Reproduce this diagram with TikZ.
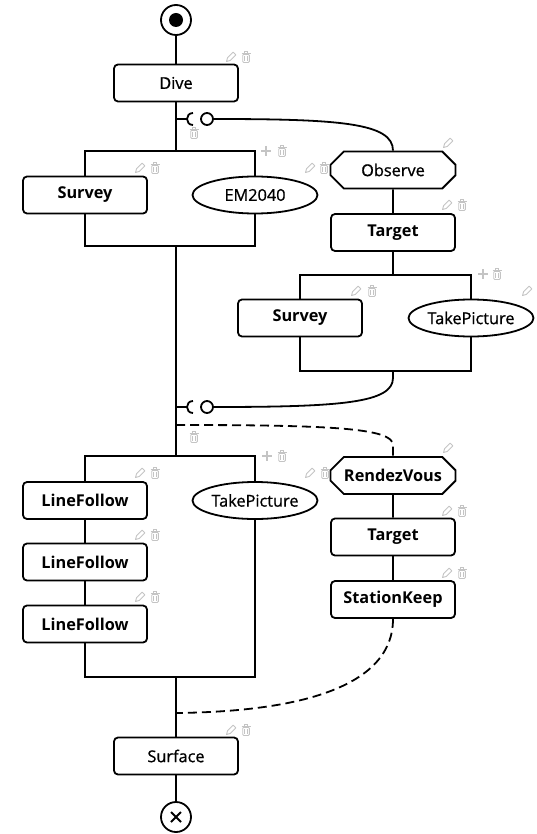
\documentclass[tikz,border=0pt]{standalone}
\usepackage{fontspec}
\setmainfont{Open Sans}
\newfontfamily\medfont[FakeBold=0.9]{Open Sans}
\usetikzlibrary{shapes.geometric,shapes.misc}
\definecolor{icon}{HTML}{C4C4C4}
\tikzset{
  base/.style={draw,line width=1.8pt,minimum width=124pt,minimum height=37pt,inner sep=0pt,font=\fontsize{16.3pt}{19pt}\selectfont\medfont},
  strong/.style={font=\fontsize{16.3pt}{19pt}\selectfont\bfseries},
  box/.style={base,rectangle,rounded corners=4pt},
  oval/.style={base,ellipse,minimum width=125pt},
  octa/.style={base,chamfered rectangle,chamfered rectangle xsep=7pt,chamfered rectangle ysep=7pt,minimum width=125pt},
  ball/.style={circle,draw,fill=white,line width=1.8pt,minimum size=12pt,inner sep=0pt},
  wire/.style={line width=1.8pt},
  dwire/.style={line width=1.8pt,dash pattern=on 9pt off 5pt},
  penc/.pic={\draw[icon,line width=0.9pt,line join=round] (4.9,-2.1) -- (2.1,-4.9) -- (-3.4,0.6) -- (-4.5,4.5) -- (-0.6,3.4) -- cycle;},
  trsh/.pic={\draw[icon,line width=0.9pt] (-4.5,-4) -- (4.5,-4) (-1.5,-4) -- (-1.5,-5.8) -- (1.5,-5.8) -- (1.5,-4);
             \draw[icon,line width=0.9pt,rounded corners=1pt] (-3.3,-2.6) rectangle (3.3,5.5);
             \draw[icon,line width=0.7pt] (-1.2,-1) -- (-1.2,4) (1.2,-1) -- (1.2,4);},
  plusi/.pic={\draw[icon,line width=2pt] (-5,0) -- (5,0) (0,-5) -- (0,5);}
}
\begin{document}
\begin{tikzpicture}[x=1pt,y=-1pt]
\useasboundingbox (0,0) rectangle (537,834);
% start / end
\node[circle,draw,line width=1.8pt,minimum size=30pt,inner sep=0pt] (start) at (176,20) {};
\fill (start.center) circle (7);
\node[circle,draw,line width=1.8pt,minimum size=30pt,inner sep=0pt] (stop) at (176,817) {};
\draw[wire] (171,812) -- (181,822) (181,812) -- (171,822);
% nodes
\node[box] (dive) at (176,83) {Dive};
\node[box,strong] (survA) at (85,195) {Survey};
\node[oval] (em) at (255,195) {EM2040};
\node[octa] (obs) at (393,170) {Observe};
\node[box,strong] (targA) at (393,232.5) {Target};
\node[box,strong] (survB) at (300,318) {Survey};
\node[oval] (picA) at (471,318) {TakePicture};
\node[octa,strong] (rdv) at (393,475.5) {RendezVous};
\node[box,strong] (targB) at (393,537) {Target};
\node[box,strong] (keep) at (393,599.5) {StationKeep};
\node[box,strong] (lfA) at (85,500.5) {LineFollow};
\node[box,strong] (lfB) at (85,562) {LineFollow};
\node[box,strong] (lfC) at (85,624) {LineFollow};
\node[oval] (picB) at (255,500.5) {TakePicture};
\node[box] (surf) at (176,756) {Surface};
% balls
\node[ball] (ballA) at (207,119) {};
\node[ball] (ballB) at (207,407) {};
% coordinates
\coordinate (fAt) at (176,151);
\coordinate (fAb) at (176,246);
\coordinate (fBt) at (393,275);
\coordinate (fBb) at (393,371);
\coordinate (fCt) at (176,456);
\coordinate (fCb) at (176,677);
\coordinate (sA) at (176,119);
\coordinate (sB) at (176,407);
\coordinate (dA) at (176,425);
\coordinate (dB) at (176,713);
% main spine
\draw[wire] (start) -- (dive);
\draw[wire] (dive.south) -- (fAt);
\draw[wire] (survA.north) -- (survA.north |- fAt) -| (em.north);
\draw[wire] (survA.south) -- (survA.south |- fAb) -| (em.south);
\draw[wire] (fAb) -- (fCt);
\draw[wire] (lfA.north) -- (lfA.north |- fCt) -| (picB.north);
\draw[wire] (lfA) -- (lfB);
\draw[wire] (lfB) -- (lfC);
\draw[wire] (lfC.south) -- (lfC.south |- fCb) -| (picB.south);
\draw[wire] (fCb) -- (surf.north);
\draw[wire] (surf) -- (stop);
% right branch 1
\draw[wire] (obs) -- (targA);
\draw[wire] (targA.south) -- (fBt);
\draw[wire] (survB.north) -- (survB.north |- fBt) -| (picA.north);
\draw[wire] (survB.south) -- (survB.south |- fBb) -| (picA.south);
% sockets
\draw[wire] (sA) -- (187,119);
\draw[wire] (193,113) .. controls (185,113) and (185,125) .. (193,125);
\draw[wire] (ballA.east) .. controls (340,119) and (393,123) .. (obs.north);
\draw[wire] (sB) -- (187,407);
\draw[wire] (193,401) .. controls (185,401) and (185,413) .. (193,413);
\draw[wire] (fBb) -- (393,378) .. controls (393,403) and (340,407) .. (ballB.east);
% dashed branch
\draw[dwire] (dA) .. controls (330,425) and (393,428) .. (393,445) -- (rdv.north);
\draw[wire] (rdv) -- (targB);
\draw[wire] (targB) -- (keep);
\draw[dwire] (keep.south) .. controls (393,700) and (260,712) .. (dB);
% icons
\pic at (231,57) {penc}; \pic at (246,57) {trsh};
\pic at (194,133) {trsh};
\pic at (266,151) {plusi}; \pic at (282,151) {trsh};
\pic at (140,168) {penc}; \pic at (155,168) {trsh};
\pic at (310,168) {penc}; \pic at (324,168) {trsh};
\pic at (448,143) {penc};
\pic at (447,205) {penc}; \pic at (462,205) {trsh};
\pic at (483,274) {plusi}; \pic at (497,274) {trsh};
\pic at (356,291) {penc}; \pic at (372,291) {trsh};
\pic at (527,291) {penc};
\pic at (194,437) {trsh};
\pic at (267,456) {plusi}; \pic at (282,456) {trsh};
\pic at (140,473) {penc}; \pic at (155,473) {trsh};
\pic at (140,535) {penc}; \pic at (155,535) {trsh};
\pic at (140,597) {penc}; \pic at (155,597) {trsh};
\pic at (310,473) {penc}; \pic at (325,473) {trsh};
\pic at (448,448) {penc};
\pic at (447,511) {penc}; \pic at (462,511) {trsh};
\pic at (447,573) {penc}; \pic at (462,573) {trsh};
\pic at (231,730) {penc}; \pic at (246,730) {trsh};
\end{tikzpicture}
\end{document}
